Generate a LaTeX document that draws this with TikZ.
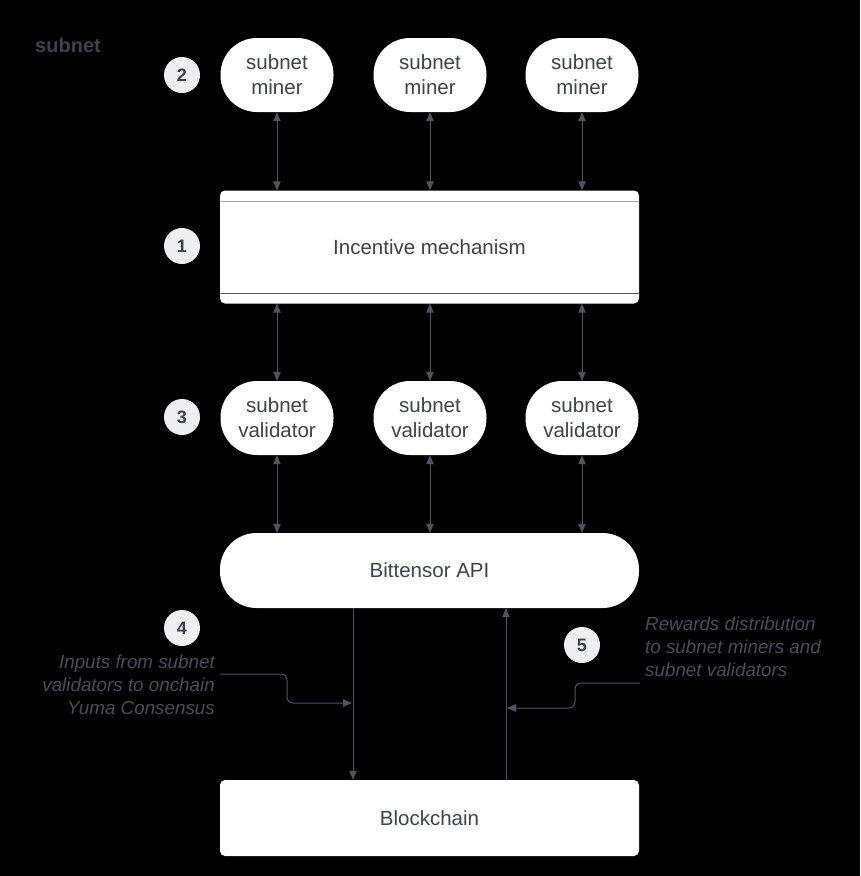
\documentclass[tikz,border=0pt]{standalone}
\usepackage{fontspec}
\setmainfont{Liberation Sans}
\usetikzlibrary{arrows.meta}

\definecolor{ink}{HTML}{3F424A}
\definecolor{wire}{HTML}{50545E}
\definecolor{note}{HTML}{4A4D55}
\definecolor{badge}{HTML}{EFEFF1}

\tikzset{
  pill/.style={fill=white, rounded corners=36.5pt, text=ink, align=center,
    inner sep=0pt, font=\fontsize{20.5}{25}\selectfont},
  board/.style={fill=white, rounded corners=5pt, text=ink, align=center,
    inner sep=0pt, font=\fontsize{20.5}{25}\selectfont},
  badgenode/.style={circle, fill=badge, text=ink, minimum size=36pt, inner sep=0pt,
    font=\fontsize{18}{18}\selectfont\bfseries},
  link/.style={draw=wire, line width=1pt,
    {Triangle[length=9pt,width=7.5pt]}-{Triangle[length=9pt,width=7.5pt]}},
  tip/.style={draw=wire, line width=1pt, -{Triangle[length=9pt,width=7.5pt]}},
  elbow/.style={tip, rounded corners=6pt},
  remark/.style={text=note, inner sep=0pt, font=\fontsize{18.8}{23}\selectfont\itshape}
}

\begin{document}
\begin{tikzpicture}[x=1pt, y=-1pt]
  % canvas
  \fill[black] (0,0) rectangle (860,876);
  \useasboundingbox (0,0) rectangle (860,876);
  % column positions
  \def\columns {277,430,582};
  % subnet label
  \node[text=ink, font=\fontsize{20}{20}\selectfont\bfseries] (title) at (68,45) {subnet};
  % subnet miners
  \foreach \x [count=\index] in \columns
  {
    \node[pill, minimum width=113pt, minimum height=74pt] (miner_\index) at (\x,75) {subnet\\miner};
  }
  % incentive mechanism
  \node[board, minimum width=419pt, minimum height=113pt] (mech) at (429.5,247) {Incentive mechanism};
  \draw[gray!70, line width=1pt] ([yshift=-11pt]mech.north west) -- ([yshift=-11pt]mech.north east);
  \draw[wire, line width=1pt] ([yshift=10pt]mech.south west) -- ([yshift=10pt]mech.south east);
  % subnet validators
  \foreach \x [count=\index] in \columns
  {
    \node[pill, minimum width=113pt, minimum height=74pt] (validator_\index) at (\x,418) {subnet\\validator};
  }
  % bittensor api and blockchain
  \node[pill, minimum width=419pt, minimum height=75pt] (api) at (429.5,570.5) {Bittensor API};
  \node[board, minimum width=419pt, minimum height=76pt] (chain) at (429.5,818) {Blockchain};
  % links between the layers
  \foreach \current in {1,...,3}
  {
    \draw[link] (miner_\current.south) -- (miner_\current.south |- mech.north);
    \draw[link] (validator_\current.north) -- (validator_\current.north |- mech.south);
    \draw[link] (validator_\current.south) -- (validator_\current.south |- api.north);
  }
  % onchain traffic
  \draw[tip] ([xshift=-76.5pt]api.south) -- ([xshift=-76.5pt]chain.north);
  \draw[tip] ([xshift=76.5pt]chain.north) -- ([xshift=76.5pt]api.south);
  % badges
  \foreach \label/\y in {2/75, 1/246, 3/417, 4/628}
  {
    \node[badgenode] (badge_\label) at (182,\y) {\label};
  }
  \node[badgenode] (badge_5) at (582,645) {5};
  % remarks
  \node[remark, align=right, anchor=east] (inputs) at (215,685)
    {Inputs from subnet\\validators to onchain\\Yuma Consensus};
  \node[remark, align=left, anchor=west] (rewards) at (645,647)
    {Rewards distribution\\to subnet miners and\\subnet validators};
  \coordinate (inputs_out) at (220,674);
  \coordinate (inputs_in) at (352,703);
  \coordinate (rewards_out) at (640,683);
  \coordinate (rewards_in) at (507,708);
  \draw[elbow] (inputs_out) -- (287,674) -- (287,703) -- (inputs_in);
  \draw[elbow] (rewards_out) -- (575,683) -- (575,708) -- (rewards_in);
\end{tikzpicture}
\end{document}
